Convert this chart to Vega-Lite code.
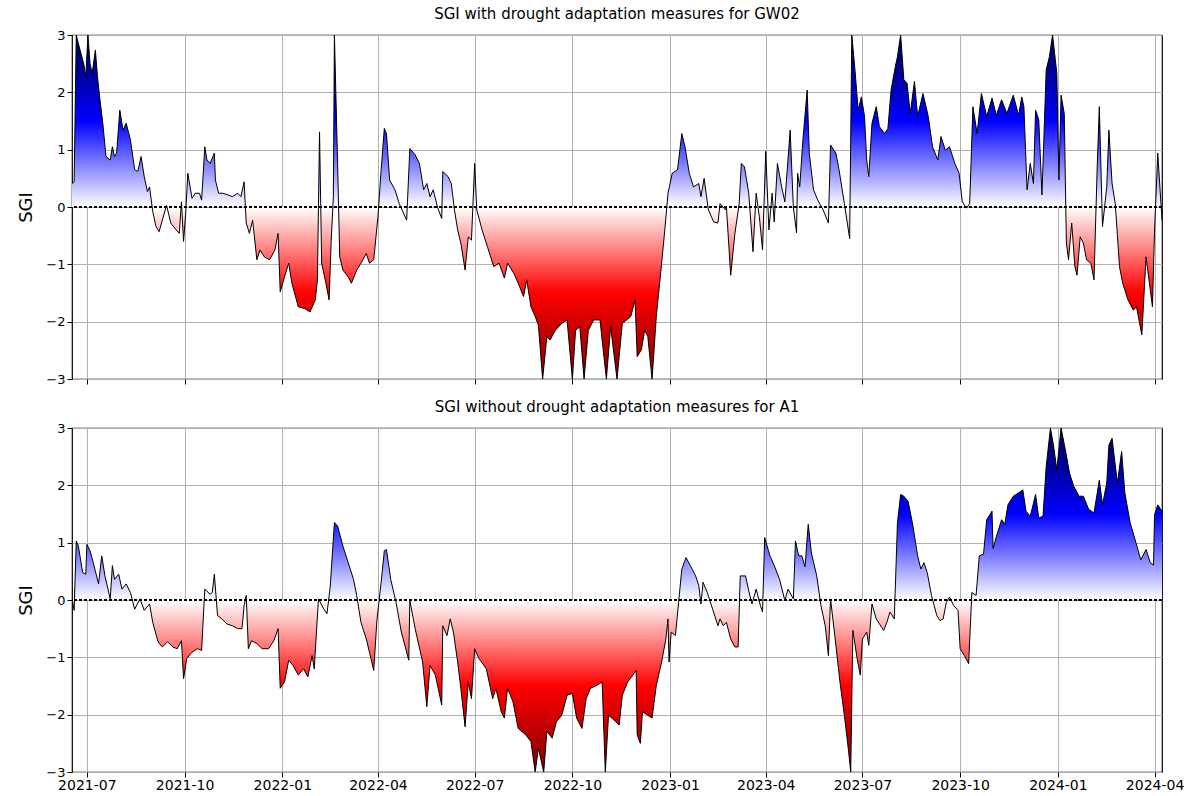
{
  "$schema": "https://vega.github.io/schema/vega-lite/v6.json",
  "background": "white",
  "padding": {"left": 17, "top": 6, "right": 30, "bottom": 2},
  "spacing": 12,
  "config": {
    "view": {"stroke": "black", "strokeWidth": 1.2},
    "font": "DejaVu Sans",
    "title": {"fontSize": 15, "fontWeight": "normal", "offset": 7},
    "axis": {"gridColor": "#b0b0b0", "gridOpacity": 1, "labelFontSize": 13, "labelColor": "black", "tickColor": "black", "domain": false, "titleFontWeight": "normal", "titleFontSize": 18}
  },
  "datasets": {
    "gw02": [
      {"d":"2021-06-17","v":0.41},{"d":"2021-06-19","v":0.44},{"d":"2021-06-21","v":3},{"d":"2021-06-23","v":2.85},{"d":"2021-06-28","v":2.5},{"d":"2021-06-30","v":2.27},{"d":"2021-07-02","v":3},{"d":"2021-07-04","v":2.5},{"d":"2021-07-06","v":2.33},{"d":"2021-07-09","v":2.74},{"d":"2021-07-11","v":2.27},{"d":"2021-07-13","v":1.92},{"d":"2021-07-16","v":1.46},{"d":"2021-07-19","v":0.88},{"d":"2021-07-23","v":0.82},{"d":"2021-07-25","v":1.05},{"d":"2021-07-27","v":0.88},{"d":"2021-07-29","v":0.94},{"d":"2021-08-01","v":1.69},{"d":"2021-08-04","v":1.34},{"d":"2021-08-07","v":1.46},{"d":"2021-08-11","v":1.17},{"d":"2021-08-15","v":0.65},{"d":"2021-08-18","v":0.62},{"d":"2021-08-21","v":0.88},{"d":"2021-08-24","v":0.53},{"d":"2021-08-27","v":0.27},{"d":"2021-08-29","v":0.35},{"d":"2021-09-01","v":-0.08},{"d":"2021-09-04","v":-0.34},{"d":"2021-09-07","v":-0.43},{"d":"2021-09-10","v":-0.23},{"d":"2021-09-14","v":0.03},{"d":"2021-09-18","v":-0.28},{"d":"2021-09-23","v":-0.4},{"d":"2021-09-26","v":-0.46},{"d":"2021-09-28","v":0.09},{"d":"2021-09-30","v":-0.6},{"d":"2021-10-02","v":-0.11},{"d":"2021-10-04","v":0.59},{"d":"2021-10-08","v":0.15},{"d":"2021-10-11","v":0.24},{"d":"2021-10-15","v":0.24},{"d":"2021-10-17","v":0.12},{"d":"2021-10-20","v":1.05},{"d":"2021-10-22","v":0.82},{"d":"2021-10-25","v":0.76},{"d":"2021-10-29","v":0.94},{"d":"2021-10-30","v":0.47},{"d":"2021-11-02","v":0.24},{"d":"2021-11-06","v":0.24},{"d":"2021-11-11","v":0.21},{"d":"2021-11-15","v":0.18},{"d":"2021-11-20","v":0.24},{"d":"2021-11-23","v":0.18},{"d":"2021-11-26","v":0.44},{"d":"2021-11-28","v":-0.28},{"d":"2021-12-01","v":-0.46},{"d":"2021-12-04","v":-0.23},{"d":"2021-12-08","v":-0.92},{"d":"2021-12-11","v":-0.75},{"d":"2021-12-15","v":-0.87},{"d":"2021-12-20","v":-0.92},{"d":"2021-12-25","v":-0.75},{"d":"2021-12-28","v":-0.46},{"d":"2021-12-30","v":-1.48},{"d":"2022-01-03","v":-1.22},{"d":"2022-01-07","v":-0.98},{"d":"2022-01-10","v":-1.33},{"d":"2022-01-16","v":-1.74},{"d":"2022-01-22","v":-1.77},{"d":"2022-01-27","v":-1.83},{"d":"2022-02-01","v":-1.62},{"d":"2022-02-03","v":-1.27},{"d":"2022-02-05","v":1.31},{"d":"2022-02-07","v":-0.98},{"d":"2022-02-11","v":-1.33},{"d":"2022-02-14","v":-1.62},{"d":"2022-02-16","v":-0.58},{"d":"2022-02-18","v":0.18},{"d":"2022-02-19","v":3},{"d":"2022-02-22","v":0.76},{"d":"2022-02-24","v":-0.87},{"d":"2022-02-27","v":-1.1},{"d":"2022-03-04","v":-1.22},{"d":"2022-03-07","v":-1.33},{"d":"2022-03-12","v":-1.1},{"d":"2022-03-16","v":-0.98},{"d":"2022-03-21","v":-0.81},{"d":"2022-03-24","v":-0.98},{"d":"2022-03-28","v":-0.92},{"d":"2022-04-01","v":-0.17},{"d":"2022-04-04","v":0.65},{"d":"2022-04-07","v":1.37},{"d":"2022-04-09","v":1.28},{"d":"2022-04-12","v":0.47},{"d":"2022-04-17","v":0.3},{"d":"2022-04-21","v":0.06},{"d":"2022-04-28","v":-0.23},{"d":"2022-05-01","v":1.02},{"d":"2022-05-06","v":0.91},{"d":"2022-05-10","v":0.76},{"d":"2022-05-14","v":0.3},{"d":"2022-05-17","v":0.41},{"d":"2022-05-20","v":0.18},{"d":"2022-05-23","v":0.3},{"d":"2022-05-27","v":0.0},{"d":"2022-05-31","v":-0.2},{"d":"2022-06-01","v":0.62},{"d":"2022-06-06","v":0.53},{"d":"2022-06-09","v":0.41},{"d":"2022-06-12","v":-0.05},{"d":"2022-06-15","v":-0.4},{"d":"2022-06-18","v":-0.63},{"d":"2022-06-22","v":-1.1},{"d":"2022-06-25","v":-0.52},{"d":"2022-06-28","v":-0.58},{"d":"2022-07-01","v":0.76},{"d":"2022-07-03","v":-0.05},{"d":"2022-07-08","v":-0.4},{"d":"2022-07-13","v":-0.69},{"d":"2022-07-19","v":-1.04},{"d":"2022-07-24","v":-0.98},{"d":"2022-07-29","v":-1.24},{"d":"2022-08-01","v":-0.98},{"d":"2022-08-07","v":-1.16},{"d":"2022-08-11","v":-1.33},{"d":"2022-08-16","v":-1.56},{"d":"2022-08-19","v":-1.27},{"d":"2022-08-23","v":-1.74},{"d":"2022-08-27","v":-1.91},{"d":"2022-08-30","v":-2.06},{"d":"2022-09-03","v":-3},{"d":"2022-09-07","v":-2.26},{"d":"2022-09-10","v":-2.32},{"d":"2022-09-15","v":-2.15},{"d":"2022-09-21","v":-2.03},{"d":"2022-09-26","v":-1.97},{"d":"2022-10-01","v":-3},{"d":"2022-10-04","v":-2.15},{"d":"2022-10-08","v":-2.09},{"d":"2022-10-12","v":-3},{"d":"2022-10-16","v":-2.15},{"d":"2022-10-21","v":-1.97},{"d":"2022-10-27","v":-1.97},{"d":"2022-11-02","v":-3},{"d":"2022-11-06","v":-2.09},{"d":"2022-11-12","v":-3},{"d":"2022-11-17","v":-2.03},{"d":"2022-11-25","v":-1.91},{"d":"2022-11-29","v":-1.62},{"d":"2022-12-01","v":-2.61},{"d":"2022-12-05","v":-2.49},{"d":"2022-12-08","v":-2.15},{"d":"2022-12-11","v":-2.26},{"d":"2022-12-15","v":-3},{"d":"2022-12-19","v":-1.91},{"d":"2022-12-24","v":-0.98},{"d":"2022-12-27","v":-0.4},{"d":"2022-12-30","v":0.24},{"d":"2023-01-03","v":0.59},{"d":"2023-01-08","v":0.65},{"d":"2023-01-12","v":1.28},{"d":"2023-01-15","v":1.05},{"d":"2023-01-19","v":0.59},{"d":"2023-01-23","v":0.35},{"d":"2023-01-28","v":0.41},{"d":"2023-01-30","v":0.18},{"d":"2023-02-02","v":0.5},{"d":"2023-02-06","v":-0.05},{"d":"2023-02-11","v":-0.26},{"d":"2023-02-15","v":-0.28},{"d":"2023-02-17","v":0.06},{"d":"2023-02-22","v":-0.05},{"d":"2023-02-23","v":0.0},{"d":"2023-02-27","v":-1.19},{"d":"2023-03-03","v":-0.46},{"d":"2023-03-07","v":0.06},{"d":"2023-03-09","v":0.76},{"d":"2023-03-12","v":0.7},{"d":"2023-03-16","v":0.24},{"d":"2023-03-20","v":-0.78},{"d":"2023-03-23","v":0.24},{"d":"2023-03-26","v":-0.17},{"d":"2023-03-29","v":-0.75},{"d":"2023-04-01","v":0.97},{"d":"2023-04-04","v":-0.4},{"d":"2023-04-07","v":0.24},{"d":"2023-04-09","v":-0.26},{"d":"2023-04-12","v":0.76},{"d":"2023-04-16","v":0.35},{"d":"2023-04-19","v":0.09},{"d":"2023-04-24","v":1.34},{"d":"2023-04-27","v":0.0},{"d":"2023-04-30","v":-0.45},{"d":"2023-05-01","v":0.59},{"d":"2023-05-03","v":0.35},{"d":"2023-05-06","v":1.17},{"d":"2023-05-10","v":2.04},{"d":"2023-05-12","v":0.94},{"d":"2023-05-16","v":0.3},{"d":"2023-05-20","v":0.12},{"d":"2023-05-25","v":-0.05},{"d":"2023-05-30","v":-0.28},{"d":"2023-06-01","v":1.08},{"d":"2023-06-06","v":0.94},{"d":"2023-06-09","v":0.65},{"d":"2023-06-14","v":0.06},{"d":"2023-06-19","v":-0.55},{"d":"2023-06-21","v":3},{"d":"2023-06-24","v":2.39},{"d":"2023-06-27","v":1.69},{"d":"2023-06-30","v":1.92},{"d":"2023-07-03","v":1.58},{"d":"2023-07-05","v":0.82},{"d":"2023-07-07","v":0.53},{"d":"2023-07-10","v":1.46},{"d":"2023-07-14","v":1.75},{"d":"2023-07-17","v":1.4},{"d":"2023-07-22","v":1.28},{"d":"2023-07-25","v":1.37},{"d":"2023-07-28","v":2.04},{"d":"2023-08-01","v":2.45},{"d":"2023-08-03","v":2.62},{"d":"2023-08-06","v":3},{"d":"2023-08-09","v":2.22},{"d":"2023-08-12","v":2.16},{"d":"2023-08-15","v":1.63},{"d":"2023-08-19","v":2.19},{"d":"2023-08-22","v":1.58},{"d":"2023-08-27","v":1.98},{"d":"2023-09-01","v":1.58},{"d":"2023-09-05","v":1.05},{"d":"2023-09-10","v":0.82},{"d":"2023-09-13","v":1.23},{"d":"2023-09-17","v":0.99},{"d":"2023-09-21","v":1.05},{"d":"2023-09-26","v":0.76},{"d":"2023-09-30","v":0.59},{"d":"2023-10-03","v":0.09},{"d":"2023-10-07","v":-0.02},{"d":"2023-10-10","v":0.06},{"d":"2023-10-13","v":1.75},{"d":"2023-10-17","v":1.28},{"d":"2023-10-21","v":1.98},{"d":"2023-10-26","v":1.58},{"d":"2023-10-31","v":1.9},{"d":"2023-11-04","v":1.6},{"d":"2023-11-09","v":1.87},{"d":"2023-11-14","v":1.63},{"d":"2023-11-20","v":1.95},{"d":"2023-11-25","v":1.6},{"d":"2023-11-28","v":1.92},{"d":"2023-11-30","v":1.75},{"d":"2023-12-03","v":0.3},{"d":"2023-12-06","v":0.76},{"d":"2023-12-09","v":0.41},{"d":"2023-12-11","v":1.69},{"d":"2023-12-14","v":1.52},{"d":"2023-12-17","v":0.21},{"d":"2023-12-21","v":2.39},{"d":"2023-12-24","v":2.62},{"d":"2023-12-27","v":3},{"d":"2023-12-31","v":2.33},{"d":"2024-01-02","v":0.47},{"d":"2024-01-04","v":1.95},{"d":"2024-01-07","v":1.63},{"d":"2024-01-09","v":-0.63},{"d":"2024-01-11","v":-0.92},{"d":"2024-01-14","v":-0.28},{"d":"2024-01-17","v":-1.04},{"d":"2024-01-19","v":-1.19},{"d":"2024-01-22","v":-0.52},{"d":"2024-01-25","v":-0.63},{"d":"2024-01-28","v":-0.92},{"d":"2024-02-01","v":-0.98},{"d":"2024-02-04","v":-1.27},{"d":"2024-02-07","v":0.7},{"d":"2024-02-09","v":1.75},{"d":"2024-02-12","v":-0.34},{"d":"2024-02-16","v":0.35},{"d":"2024-02-18","v":1.34},{"d":"2024-02-21","v":0.41},{"d":"2024-02-24","v":0.06},{"d":"2024-02-28","v":-1.04},{"d":"2024-03-02","v":-1.33},{"d":"2024-03-07","v":-1.62},{"d":"2024-03-12","v":-1.8},{"d":"2024-03-15","v":-1.74},{"d":"2024-03-20","v":-2.23},{"d":"2024-03-24","v":-0.87},{"d":"2024-03-28","v":-1.45},{"d":"2024-03-30","v":-1.74},{"d":"2024-04-01","v":-0.4},{"d":"2024-04-04","v":0.94},{"d":"2024-04-08","v":-0.23}
    ],
    "a1": [
      {"d":"2021-06-17","v":0.02},{"d":"2021-06-18","v":-0.07},{"d":"2021-06-19","v":-0.18},{"d":"2021-06-21","v":1.03},{"d":"2021-06-23","v":0.94},{"d":"2021-06-27","v":0.48},{"d":"2021-06-30","v":0.45},{"d":"2021-07-01","v":0.97},{"d":"2021-07-04","v":0.86},{"d":"2021-07-07","v":0.65},{"d":"2021-07-12","v":0.28},{"d":"2021-07-15","v":0.77},{"d":"2021-07-18","v":0.42},{"d":"2021-07-23","v":0.02},{"d":"2021-07-25","v":0.6},{"d":"2021-07-27","v":0.36},{"d":"2021-07-31","v":0.45},{"d":"2021-08-03","v":0.19},{"d":"2021-08-07","v":0.28},{"d":"2021-08-11","v":0.13},{"d":"2021-08-15","v":-0.16},{"d":"2021-08-20","v":0.02},{"d":"2021-08-24","v":-0.18},{"d":"2021-08-29","v":-0.07},{"d":"2021-09-01","v":-0.39},{"d":"2021-09-06","v":-0.73},{"d":"2021-09-10","v":-0.82},{"d":"2021-09-15","v":-0.73},{"d":"2021-09-20","v":-0.82},{"d":"2021-09-24","v":-0.85},{"d":"2021-09-28","v":-0.71},{"d":"2021-09-30","v":-1.37},{"d":"2021-10-03","v":-1.02},{"d":"2021-10-08","v":-0.91},{"d":"2021-10-13","v":-0.85},{"d":"2021-10-17","v":-0.88},{"d":"2021-10-20","v":0.19},{"d":"2021-10-25","v":0.1},{"d":"2021-10-27","v":0.13},{"d":"2021-10-29","v":0.45},{"d":"2021-11-01","v":-0.27},{"d":"2021-11-05","v":-0.33},{"d":"2021-11-10","v":-0.42},{"d":"2021-11-15","v":-0.45},{"d":"2021-11-20","v":-0.5},{"d":"2021-11-24","v":-0.5},{"d":"2021-11-26","v":-0.1},{"d":"2021-11-28","v":0.08},{"d":"2021-11-30","v":-0.85},{"d":"2021-12-03","v":-0.71},{"d":"2021-12-08","v":-0.76},{"d":"2021-12-13","v":-0.85},{"d":"2021-12-19","v":-0.85},{"d":"2021-12-24","v":-0.71},{"d":"2021-12-28","v":-0.5},{"d":"2021-12-30","v":-1.54},{"d":"2022-01-03","v":-1.43},{"d":"2022-01-07","v":-1.05},{"d":"2022-01-11","v":-1.14},{"d":"2022-01-16","v":-1.31},{"d":"2022-01-21","v":-1.2},{"d":"2022-01-25","v":-1.34},{"d":"2022-01-29","v":-0.97},{"d":"2022-01-31","v":-1.2},{"d":"2022-02-04","v":0.02},{"d":"2022-02-09","v":-0.16},{"d":"2022-02-12","v":-0.24},{"d":"2022-02-15","v":0.22},{"d":"2022-02-19","v":1.35},{"d":"2022-02-22","v":1.29},{"d":"2022-02-27","v":0.94},{"d":"2022-03-04","v":0.65},{"d":"2022-03-09","v":0.36},{"d":"2022-03-12","v":0.08},{"d":"2022-03-16","v":-0.39},{"d":"2022-03-21","v":-0.68},{"d":"2022-03-24","v":-0.91},{"d":"2022-03-28","v":-1.23},{"d":"2022-03-31","v":-0.36},{"d":"2022-04-04","v":0.31},{"d":"2022-04-07","v":0.86},{"d":"2022-04-09","v":0.88},{"d":"2022-04-13","v":0.36},{"d":"2022-04-18","v":-0.04},{"d":"2022-04-23","v":-0.56},{"d":"2022-04-30","v":-1.05},{"d":"2022-05-01","v":-0.01},{"d":"2022-05-06","v":-0.5},{"d":"2022-05-13","v":-1.08},{"d":"2022-05-17","v":-1.86},{"d":"2022-05-20","v":-1.14},{"d":"2022-05-25","v":-1.31},{"d":"2022-05-31","v":-1.83},{"d":"2022-06-01","v":-0.45},{"d":"2022-06-05","v":-0.62},{"d":"2022-06-08","v":-0.33},{"d":"2022-06-11","v":-0.56},{"d":"2022-06-15","v":-1.08},{"d":"2022-06-18","v":-1.54},{"d":"2022-06-22","v":-2.21},{"d":"2022-06-25","v":-1.43},{"d":"2022-06-28","v":-1.72},{"d":"2022-07-01","v":-0.85},{"d":"2022-07-05","v":-1.02},{"d":"2022-07-12","v":-1.2},{"d":"2022-07-18","v":-1.72},{"d":"2022-07-21","v":-1.54},{"d":"2022-07-26","v":-1.95},{"d":"2022-07-29","v":-2.06},{"d":"2022-08-01","v":-1.54},{"d":"2022-08-06","v":-1.77},{"d":"2022-08-11","v":-2.24},{"d":"2022-08-18","v":-2.35},{"d":"2022-08-23","v":-2.47},{"d":"2022-08-27","v":-3},{"d":"2022-08-30","v":-2.58},{"d":"2022-09-04","v":-3},{"d":"2022-09-07","v":-2.29},{"d":"2022-09-12","v":-2.41},{"d":"2022-09-16","v":-2.12},{"d":"2022-09-21","v":-2.01},{"d":"2022-09-26","v":-1.66},{"d":"2022-10-01","v":-1.63},{"d":"2022-10-05","v":-2.06},{"d":"2022-10-10","v":-2.24},{"d":"2022-10-14","v":-1.72},{"d":"2022-10-18","v":-1.54},{"d":"2022-10-24","v":-1.49},{"d":"2022-10-29","v":-1.43},{"d":"2022-11-01","v":-3},{"d":"2022-11-04","v":-2.01},{"d":"2022-11-09","v":-2.09},{"d":"2022-11-14","v":-2.18},{"d":"2022-11-17","v":-1.66},{"d":"2022-11-22","v":-1.43},{"d":"2022-11-27","v":-1.31},{"d":"2022-11-30","v":-1.23},{"d":"2022-12-01","v":-2.35},{"d":"2022-12-04","v":-2.5},{"d":"2022-12-06","v":-1.95},{"d":"2022-12-11","v":-2.01},{"d":"2022-12-15","v":-2.06},{"d":"2022-12-19","v":-1.49},{"d":"2022-12-24","v":-1.08},{"d":"2022-12-28","v":-0.68},{"d":"2022-12-30","v":-0.33},{"d":"2022-12-31","v":-1.08},{"d":"2023-01-02","v":-0.56},{"d":"2023-01-06","v":-0.62},{"d":"2023-01-09","v":-0.04},{"d":"2023-01-12","v":0.54},{"d":"2023-01-16","v":0.74},{"d":"2023-01-20","v":0.6},{"d":"2023-01-25","v":0.42},{"d":"2023-01-28","v":0.25},{"d":"2023-01-30","v":-0.07},{"d":"2023-02-01","v":0.31},{"d":"2023-02-05","v":0.13},{"d":"2023-02-10","v":-0.16},{"d":"2023-02-15","v":-0.45},{"d":"2023-02-17","v":-0.33},{"d":"2023-02-20","v":-0.45},{"d":"2023-02-23","v":-0.39},{"d":"2023-02-27","v":-0.68},{"d":"2023-03-03","v":-0.82},{"d":"2023-03-06","v":-0.82},{"d":"2023-03-08","v":0.42},{"d":"2023-03-13","v":0.42},{"d":"2023-03-16","v":0.16},{"d":"2023-03-19","v":-0.07},{"d":"2023-03-23","v":0.19},{"d":"2023-03-27","v":-0.1},{"d":"2023-03-29","v":-0.21},{"d":"2023-03-31","v":1.09},{"d":"2023-04-05","v":0.77},{"d":"2023-04-09","v":0.6},{"d":"2023-04-14","v":0.36},{"d":"2023-04-19","v":-0.01},{"d":"2023-04-22","v":0.19},{"d":"2023-04-27","v":0.02},{"d":"2023-04-29","v":1.03},{"d":"2023-05-02","v":0.77},{"d":"2023-05-05","v":0.77},{"d":"2023-05-08","v":0.58},{"d":"2023-05-11","v":1.32},{"d":"2023-05-14","v":0.82},{"d":"2023-05-19","v":0.42},{"d":"2023-05-23","v":-0.1},{"d":"2023-05-27","v":-0.45},{"d":"2023-05-30","v":-0.97},{"d":"2023-06-01","v":0.02},{"d":"2023-06-05","v":-0.62},{"d":"2023-06-10","v":-1.45},{"d":"2023-06-14","v":-2.01},{"d":"2023-06-18","v":-2.64},{"d":"2023-06-20","v":-3},{"d":"2023-06-22","v":-0.53},{"d":"2023-06-26","v":-1.02},{"d":"2023-06-29","v":-1.31},{"d":"2023-07-01","v":-0.68},{"d":"2023-07-05","v":-0.56},{"d":"2023-07-07","v":-0.79},{"d":"2023-07-10","v":-0.07},{"d":"2023-07-14","v":-0.33},{"d":"2023-07-21","v":-0.53},{"d":"2023-07-24","v":-0.39},{"d":"2023-07-27","v":-0.21},{"d":"2023-07-31","v":-0.33},{"d":"2023-08-03","v":1.35},{"d":"2023-08-06","v":1.84},{"d":"2023-08-09","v":1.81},{"d":"2023-08-13","v":1.72},{"d":"2023-08-17","v":1.35},{"d":"2023-08-22","v":0.77},{"d":"2023-08-25","v":0.54},{"d":"2023-08-28","v":0.65},{"d":"2023-08-31","v":0.48},{"d":"2023-09-04","v":0.08},{"d":"2023-09-09","v":-0.27},{"d":"2023-09-12","v":-0.36},{"d":"2023-09-15","v":-0.33},{"d":"2023-09-18","v":-0.04},{"d":"2023-09-21","v":0.05},{"d":"2023-09-25","v":-0.1},{"d":"2023-09-29","v":-0.18},{"d":"2023-10-01","v":-0.85},{"d":"2023-10-05","v":-0.97},{"d":"2023-10-09","v":-1.11},{"d":"2023-10-12","v":0.13},{"d":"2023-10-16","v":0.08},{"d":"2023-10-19","v":0.77},{"d":"2023-10-23","v":0.8},{"d":"2023-10-26","v":1.4},{"d":"2023-10-31","v":1.55},{"d":"2023-11-01","v":0.9},{"d":"2023-11-04","v":1.1},{"d":"2023-11-09","v":1.4},{"d":"2023-11-12","v":1.32},{"d":"2023-11-15","v":1.66},{"d":"2023-11-20","v":1.81},{"d":"2023-11-25","v":1.87},{"d":"2023-11-29","v":1.92},{"d":"2023-12-02","v":1.55},{"d":"2023-12-06","v":1.46},{"d":"2023-12-11","v":1.84},{"d":"2023-12-14","v":1.43},{"d":"2023-12-18","v":1.46},{"d":"2023-12-21","v":2.33},{"d":"2023-12-25","v":3},{"d":"2023-12-28","v":2.68},{"d":"2023-12-31","v":2.27},{"d":"2024-01-04","v":3},{"d":"2024-01-08","v":2.62},{"d":"2024-01-12","v":2.21},{"d":"2024-01-16","v":1.98},{"d":"2024-01-21","v":1.81},{"d":"2024-01-25","v":1.81},{"d":"2024-01-30","v":1.58},{"d":"2024-02-04","v":1.52},{"d":"2024-02-09","v":2.09},{"d":"2024-02-12","v":1.66},{"d":"2024-02-16","v":2.04},{"d":"2024-02-18","v":2.7},{"d":"2024-02-21","v":2.82},{"d":"2024-02-26","v":2.04},{"d":"2024-03-01","v":2.59},{"d":"2024-03-04","v":1.87},{"d":"2024-03-09","v":1.35},{"d":"2024-03-14","v":1.03},{"d":"2024-03-19","v":0.7},{"d":"2024-03-24","v":0.88},{"d":"2024-03-28","v":0.65},{"d":"2024-03-31","v":0.61},{"d":"2024-04-01","v":1.49},{"d":"2024-04-04","v":1.66},{"d":"2024-04-08","v":1.55}
    ]
  },
  "vconcat": [
    {
      "title": "SGI with drought adaptation measures for GW02",
      "width": 1090, "height": 344,
      "data": {"name": "gw02"},
      "encoding": {
        "x": {"field": "d", "type": "temporal", "scale": {"domain": ["2021-06-17", "2024-04-08"]},
              "axis": {"title": null, "labels": false, "tickCount": {"interval": "month", "step": 3}, "tickSize": 5}},
        "y": {"field": "v", "type": "quantitative", "scale": {"domain": [-3, 3]},
              "axis": {"title": "SGI", "values": [-3, -2, -1, 0, 1, 2, 3], "tickSize": 5, "titlePadding": 10}}
      },
      "layer": [
        {"mark": {"type": "area", "clip": true, "fill": {"gradient": "linear", "x1": 0, "y1": 0, "x2": 0, "y2": 1,
          "stops": [{"offset": 0, "color": "#00004c"}, {"offset": 0.25, "color": "#0000ff"}, {"offset": 0.5, "color": "#ffffff"}, {"offset": 0.75, "color": "#ff0000"}, {"offset": 1, "color": "#800000"}]}},
         "encoding": {"y2": {"datum": 0}}},
        {"mark": {"type": "rule", "color": "black", "strokeDash": [3, 2], "strokeWidth": 0.8}, "encoding": {"y": {"datum": 0}, "x": {}}},
        {"mark": {"type": "line", "color": "black", "strokeWidth": 1, "clip": true}}
      ]
    },
    {
      "title": "SGI without drought adaptation measures for A1",
      "width": 1090, "height": 344,
      "data": {"name": "a1"},
      "encoding": {
        "x": {"field": "d", "type": "temporal", "scale": {"domain": ["2021-06-17", "2024-04-08"]},
              "axis": {"title": null, "format": "%Y-%m", "tickCount": {"interval": "month", "step": 3}, "tickSize": 5, "labelFontSize": 14, "labelPadding": 1}},
        "y": {"field": "v", "type": "quantitative", "scale": {"domain": [-3, 3]},
              "axis": {"title": "SGI", "values": [-3, -2, -1, 0, 1, 2, 3], "tickSize": 5, "titlePadding": 10}}
      },
      "layer": [
        {"mark": {"type": "area", "clip": true, "fill": {"gradient": "linear", "x1": 0, "y1": 0, "x2": 0, "y2": 1,
          "stops": [{"offset": 0, "color": "#00004c"}, {"offset": 0.25, "color": "#0000ff"}, {"offset": 0.5, "color": "#ffffff"}, {"offset": 0.75, "color": "#ff0000"}, {"offset": 1, "color": "#800000"}]}},
         "encoding": {"y2": {"datum": 0}}},
        {"mark": {"type": "rule", "color": "black", "strokeDash": [3, 2], "strokeWidth": 0.8}, "encoding": {"y": {"datum": 0}, "x": {}}},
        {"mark": {"type": "line", "color": "black", "strokeWidth": 1, "clip": true}}
      ]
    }
  ]
}
